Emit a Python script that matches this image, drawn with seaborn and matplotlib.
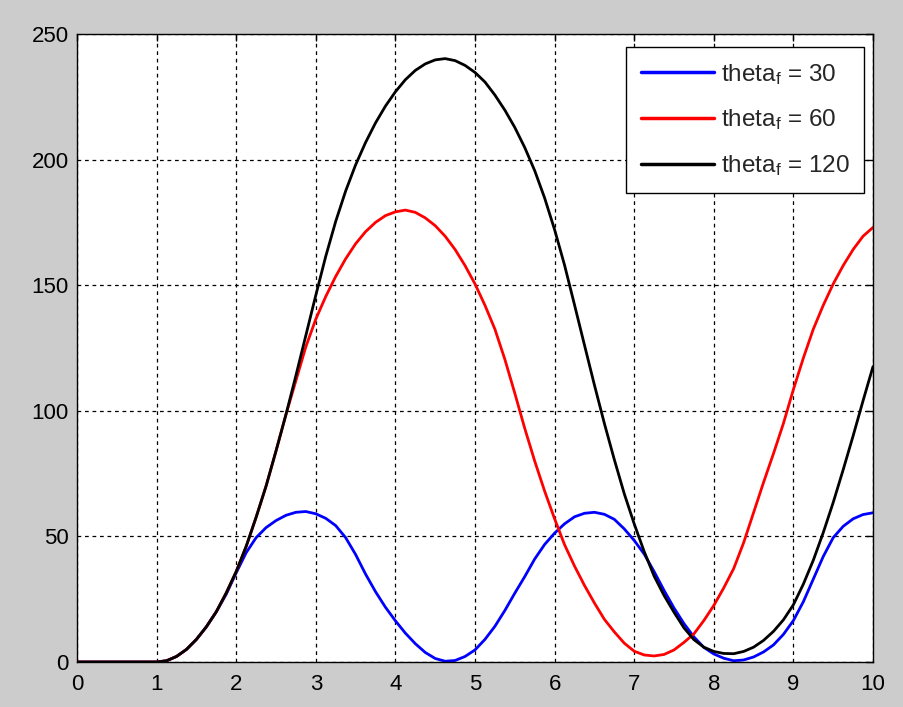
import numpy as np
import pandas as pd
import matplotlib
matplotlib.use("Agg")
import matplotlib.pyplot as plt
import seaborn as sns

# time axis (values read at 0.125 s steps)
t = [0.0, 0.125, 0.25, 0.375, 0.5, 0.625, 0.75, 0.875, 1.0,
     1.125, 1.25, 1.375, 1.5, 1.625, 1.75, 1.875, 2.0,
     2.125, 2.25, 2.375, 2.5, 2.625, 2.75, 2.875, 3.0,
     3.125, 3.25, 3.375, 3.5, 3.625, 3.75, 3.875, 4.0,
     4.125, 4.25, 4.375, 4.5, 4.625, 4.75, 4.875, 5.0,
     5.125, 5.25, 5.375, 5.5, 5.625, 5.75, 5.875, 6.0,
     6.125, 6.25, 6.375, 6.5, 6.625, 6.75, 6.875, 7.0,
     7.125, 7.25, 7.375, 7.5, 7.625, 7.75, 7.875, 8.0,
     8.125, 8.25, 8.375, 8.5, 8.625, 8.75, 8.875, 9.0,
     9.125, 9.25, 9.375, 9.5, 9.625, 9.75, 9.875, 10.0]

theta_30 = [0, 0, 0, 0, 0, 0, 0, 0, 0,
            0.5, 2.2, 5, 9, 14, 20, 27, 35.5,
            43.5, 49.5, 53.5, 56.3, 58.4, 59.6, 59.9, 59,
            57.2, 54.3, 49.5, 42.8, 35, 28, 21.8, 16.4,
            11.5, 7.3, 3.8, 1.4, 0.3, 0.6, 2.2, 4.8,
            9, 14.2, 20.5, 27.4, 34, 41, 46.8, 51.3,
            55, 57.8, 59.2, 59.6, 58.8, 56.8, 53, 48.4,
            43, 36, 28.5, 21.5, 15.3, 10, 5.8, 3.2,
            1.5, 0.5, 0.8, 2, 4, 6.8, 11, 16.5,
            24, 33, 42, 49.5, 54, 57, 58.7, 59.4]

theta_60 = [0, 0, 0, 0, 0, 0, 0, 0, 0,
            0.5, 2.2, 5, 9, 14, 20, 27.5, 36,
            46, 57.6, 70, 84, 98.5, 112, 125.5, 136.5,
            145.5, 153.5, 160.5, 166.5, 171.3, 175, 177.7, 179.2,
            179.9, 179.0, 176.8, 173.7, 169.5, 164.2, 157.8, 150.5,
            142, 132.5, 120.5, 107, 93, 80, 68, 57,
            46.7, 38.2, 30.5, 23.5, 17, 12, 7.5, 4.3,
            2.8, 2.4, 3, 4.8, 7.8, 11.2, 16.5, 22.5,
            29.5, 37.2, 47.5, 59.5, 71.5, 83, 95, 108.5,
            121, 132.5, 142, 150.5, 157.8, 164.2, 169.5, 173]

theta_120 = [0, 0, 0, 0, 0, 0, 0, 0, 0,
             0.5, 2.2, 5, 9, 14, 20, 27.5, 36,
             46, 57.6, 70, 84, 98.5, 114, 130, 146,
             161.5, 175.4, 187.5, 197.9, 206.8, 214.6, 221.3, 227,
             231.8, 235.5, 238.1, 239.7, 240.2, 239.4, 237.5, 234.7,
             230.9, 225.7, 219.7, 212.8, 204.8, 195.6, 184.7, 172.1,
             158, 142.2, 126.2, 110.3, 95, 80.6, 67, 55,
             44, 34.2, 26.5, 19.8, 13.6, 8.9, 5.9, 4.2,
             3.4, 3.3, 4.2, 5.9, 8.6, 12.2, 16.8, 22.8,
             31, 40.5, 51.5, 63.5, 76.5, 90, 104, 117.6]

labels = ["theta$_f$ = 30", "theta$_f$ = 60", "theta$_f$ = 120"]
colors = ["#0000ff", "#ff0000", "#000000"]
xticks = [0, 1, 2, 3, 4, 5, 6, 7, 8, 9, 10]
yticks = [0, 50, 100, 150, 200, 250]

df = pd.concat([
    pd.DataFrame({"t": t, "theta": theta_30, "series": labels[0]}),
    pd.DataFrame({"t": t, "theta": theta_60, "series": labels[1]}),
    pd.DataFrame({"t": t, "theta": theta_120, "series": labels[2]}),
], ignore_index=True)

sns.set_style("white")
plt.rcParams["font.family"] = ["Liberation Sans", "DejaVu Sans"]
plt.rcParams["mathtext.default"] = "regular"

W, H = 904, 707
fig = plt.figure(figsize=(W / 100, H / 100), dpi=100)
fig.patch.set_facecolor("#cccccc")
ax = fig.add_axes([77 / W, 1 - 662 / H, (873 - 77) / W, (662 - 34) / H])
ax.set_facecolor("white")

sns.lineplot(data=df, x="t", y="theta", hue="series", palette=colors,
             hue_order=labels, linewidth=2.0, ax=ax, legend=True)

ax.set_xlim(0, 10)
ax.set_ylim(0, 250)
ax.set_xticks(xticks)
ax.set_yticks(yticks)
ax.set_xlabel("")
ax.set_ylabel("")
ax.grid(True, color="black", linestyle=(0, (3, 3)), linewidth=0.9)
ax.set_axisbelow(True)
for s in ax.spines.values():
    s.set_visible(True)
    s.set_color("black")
    s.set_linewidth(1.0)
ax.tick_params(axis="both", direction="in", length=5, width=1, color="black",
               top=True, right=True, labelsize=16, labelcolor="black")
ax.tick_params(axis="x", pad=9)
ax.tick_params(axis="y", pad=6)

leg = ax.legend(loc="upper right", bbox_to_anchor=(0.9887, 0.979), borderaxespad=0,
                prop={"size": 17.5}, frameon=True, fancybox=False, shadow=False,
                handlelength=3.0, handletextpad=0.29, labelspacing=0.86,
                borderpad=0.6)
leg.get_frame().set_edgecolor("black")
leg.get_frame().set_linewidth(1.0)
leg.get_frame().set_alpha(1.0)
for line in leg.get_lines():
    line.set_linewidth(2.5)

fig.savefig("out.png", dpi=100, facecolor=fig.get_facecolor())
